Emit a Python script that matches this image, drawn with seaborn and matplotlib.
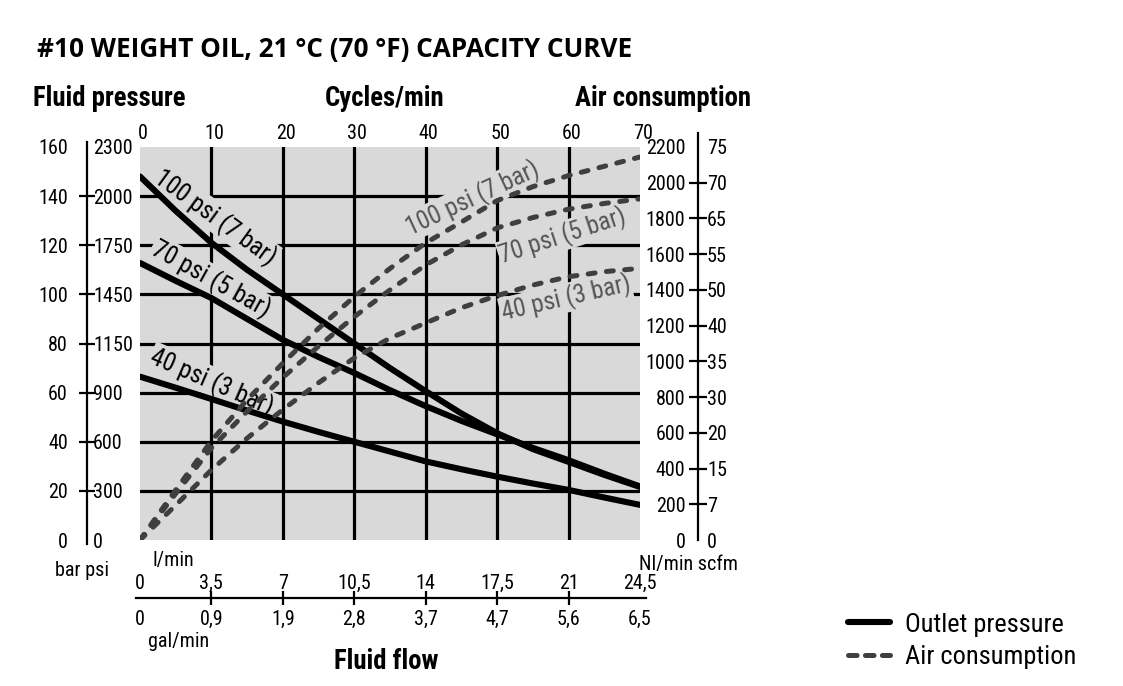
import matplotlib
matplotlib.use("Agg")
import matplotlib.pyplot as plt
import matplotlib.transforms as mtransforms
import seaborn as sns
import pandas as pd
from matplotlib import font_manager
from matplotlib.lines import Line2D

# ---------------- data ----------------
cycles = [0, 5, 10, 15, 20, 25, 30, 35, 40, 45, 50, 55, 60, 65, 70]

# outlet (fluid) pressure, bar
outlet_100psi = [148, 134, 121, 110, 100, 90, 80, 70, 60.6, 51.5, 43.5, 37, 31.8, 26.5, 21.6]
outlet_70psi = [112.8, 105.5, 98.5, 90, 81.5, 74.5, 68, 61, 54.5, 48.5, 43, 37.5, 32.5, 27, 21.8]
outlet_40psi = [66.5, 62, 57.4, 52.7, 48.2, 44, 40, 36, 32, 28.8, 25.8, 23, 20.4, 17.3, 14.3]

# air consumption, Nl/min
air_100psi = [0, 280, 555, 785, 990, 1185, 1362, 1520, 1663, 1780, 1900, 1978, 2040, 2092, 2144]
air_70psi = [0, 260, 515, 720, 910, 1085, 1250, 1400, 1540, 1652, 1747, 1805, 1852, 1884, 1910]
air_40psi = [0, 195, 392, 570, 730, 880, 1019, 1130, 1215, 1300, 1368, 1427, 1474, 1502, 1521]

series_labels = ["100 psi (7 bar)", "70 psi (5 bar)", "40 psi (3 bar)"]

cycle_ticks = [0, 10, 20, 30, 40, 50, 60, 70]
bar_ticks = [0, 20, 40, 60, 80, 100, 120, 140, 160]
psi_labels = ["0", "300", "600", "900", "1150", "1450", "1750", "2000", "2300"]
nl_ticks = [0, 200, 400, 600, 800, 1000, 1200, 1400, 1600, 1800, 2000, 2200]
scfm_labels = ["0", "7", "15", "20", "30", "35", "40", "50", "55", "65", "70", "75"]
lpm_ticks = [0, 3.5, 7, 10.5, 14, 17.5, 21, 24.5]
lpm_labels = ["0", "3,5", "7", "10,5", "14", "17,5", "21", "24,5"]
gpm_labels = ["0", "0,9", "1,9", "2,8", "3,7", "4,7", "5,6", "6,5"]

title_text = "#10 WEIGHT OIL, 21 \u00b0C (70 \u00b0F) CAPACITY CURVE"

# ---------------- style ----------------
sns.set_theme(style="white")
names = {f.name for f in font_manager.fontManager.ttflist}
cond = next((n for n in ["Liberation Sans Narrow", "Roboto Condensed", "DejaVu Sans Condensed",
                         "Liberation Sans", "Roboto"] if n in names), "DejaVu Sans")
plt.rcParams["font.family"] = [cond, "DejaVu Sans"]
plt.rcParams["lines.scale_dashes"] = False
plt.rcParams["text.color"] = "black"
plt.rcParams["xtick.color"] = "black"
plt.rcParams["ytick.color"] = "black"

W, H = 1123, 686
def fx(px):
    return px / W
def fy(py):
    return 1 - py / H

BG = "#d9d9d9"
DASH_C = "#3f3f3f"
LAB_C = "#555555"
TICK_FS = 14.5
DASH = (0, (5.0, 8.2))

fig = plt.figure(figsize=(W / 100, H / 100), dpi=100)

# ---------------- main plotting area ----------------
ax = fig.add_axes([fx(140), fy(540), 500 / W, 393 / H])
ax.set_facecolor(BG)
ax.set_xlim(0, 70)
ax.set_ylim(0, 160)
for s in ax.spines.values():
    s.set_visible(False)
ax.set_xticks(cycle_ticks)
ax.set_yticks(bar_ticks)
ax.set_axisbelow(True)
ax.grid(True, color="black", linewidth=2.3)
ax.xaxis.tick_top()
ax.tick_params(axis="x", length=0, pad=3, labelsize=TICK_FS, labeltop=True, labelbottom=False)
ax.tick_params(axis="y", length=0, labelleft=False, labelright=False)
ax.set_xlabel("")
ax.set_ylabel("")

outlet = [outlet_100psi, outlet_70psi, outlet_40psi]
for vals in outlet:
    sns.lineplot(x=cycles, y=vals, ax=ax, color="black", linewidth=4.4,
                 estimator=None, sort=False, legend=False)
    ln = ax.lines[-1]
    ln.set_solid_capstyle("round")
    ln.set_zorder(3)

# twin axis for air consumption
ax2 = ax.twinx()
ax2.set_ylim(0, 2200)
for s in ax2.spines.values():
    s.set_visible(False)
ax2.set_yticks([])
ax2.set_ylabel("")
air = [air_100psi, air_70psi, air_40psi]
for vals in air:
    sns.lineplot(x=cycles, y=vals, ax=ax2, color=DASH_C, linewidth=3.6,
                 estimator=None, sort=False, legend=False)
    ln = ax2.lines[-1]
    ln.set_linestyle(DASH)
    ln.set_dash_capstyle("round")
    ln.set_zorder(3)
ax2.set_xlim(0, 70)
# no grid lines on the outer edges of the plotting area
for t in [ax.xaxis.get_major_ticks()[0], ax.xaxis.get_major_ticks()[-1],
          ax.yaxis.get_major_ticks()[0], ax.yaxis.get_major_ticks()[-1]]:
    t.gridline.set_visible(False)
# cycle labels sit slightly right of their grid lines in the reference
shift = mtransforms.ScaledTranslation(3 / 100, 0, fig.dpi_scale_trans)
for lbl in ax.get_xticklabels(which="major"):
    lbl.set_transform(lbl.get_transform() + shift)

# curve labels (gray boxes hide the grid lines behind them)
box = dict(boxstyle="square,pad=0.05", facecolor=BG, edgecolor="none")
solid_pos = [(10.5, 131.5, -36), (9.9, 106.3, -29), (10.1, 64.5, -23.5)]
for lab, (x, y, r) in zip(series_labels, solid_pos):
    ax.text(x, y, lab, fontsize=18, rotation=r, rotation_mode="anchor",
            ha="center", va="center", color="black", bbox=box, zorder=1)
dash_pos = [(46.6, 1915, 25), (59.2, 1702, 18), (59.6, 1355, 13)]
for lab, (x, y, r) in zip(series_labels, dash_pos):
    ax2.text(x, y, lab, fontsize=18, rotation=r, rotation_mode="anchor",
             ha="center", va="center", color=LAB_C, bbox=box, zorder=1)

# ---------------- left scale (bar / psi) ----------------
pxb = 160 / 393
axL = fig.add_axes([fx(87), fy(544), 0.0001, 402 / H])
axL.set_ylim(-4 * pxb, 160 + 5 * pxb)
axL.patch.set_visible(False)
axL.set_xticks([])
axL.set_yticks(bar_ticks)
axL.set_yticklabels([str(v) for v in bar_ticks])
axL2 = axL.twinx()
axL2.set_ylim(axL.get_ylim())
axL2.patch.set_visible(False)
for s in axL2.spines.values():
    s.set_visible(False)
axL2.set_yticks(bar_ticks)
axL2.set_yticklabels(psi_labels)
axL2.tick_params(axis="y", length=0, pad=4.3, labelsize=TICK_FS)
for k, s in axL.spines.items():
    s.set_visible(k == "left")
axL.spines["left"].set_linewidth(1.6)
axL.spines["left"].set_color("black")
axL.tick_params(axis="y", direction="inout", length=11, width=1.6, pad=8.3,
                labelsize=TICK_FS, left=True, right=False)
for t in [axL.yaxis.get_major_ticks()[0], axL.yaxis.get_major_ticks()[-1]]:
    t.tick1line.set_visible(False)

# ---------------- right scale (Nl/min / scfm) ----------------
pxn = 2200 / 393
axR = fig.add_axes([fx(697.5), fy(540), 0.0001, 407 / H])
axR.set_ylim(0, 2200 + 14 * pxn)
axR.patch.set_visible(False)
axR.set_xticks([])
axR.set_yticks(nl_ticks)
axR.set_yticklabels([str(v) for v in nl_ticks])
axR2 = axR.twinx()
axR2.set_ylim(axR.get_ylim())
axR2.patch.set_visible(False)
for s in axR2.spines.values():
    s.set_visible(False)
axR2.set_yticks(nl_ticks)
axR2.set_yticklabels(scfm_labels)
axR2.tick_params(axis="y", length=0, pad=6.8, labelsize=TICK_FS)
for k, s in axR.spines.items():
    s.set_visible(k == "left")
axR.spines["left"].set_linewidth(1.6)
axR.spines["left"].set_color("black")
axR.tick_params(axis="y", direction="inout", length=13, width=1.6, pad=2.2,
                labelsize=TICK_FS, left=True, right=False)
for t in [axR.yaxis.get_major_ticks()[0], axR.yaxis.get_major_ticks()[-1]]:
    t.tick1line.set_visible(False)

# ---------------- bottom scale (l/min / gal/min) ----------------
pxl = 24.5 / 500
axB = fig.add_axes([fx(136), fy(598), 510 / W, 0.0001])
axB.set_xlim(-4 * pxl, 24.5 + 6 * pxl)
axB.patch.set_visible(False)
axB.set_yticks([])
axB.set_xticks(lpm_ticks)
axB.set_xticklabels(gpm_labels)
axB2 = axB.twiny()
axB2.set_xlim(axB.get_xlim())
axB2.patch.set_visible(False)
for s in axB2.spines.values():
    s.set_visible(False)
axB2.set_xticks(lpm_ticks)
axB2.set_xticklabels(lpm_labels)
axB2.tick_params(axis="x", length=0, pad=3.6, labelsize=TICK_FS)
for k, s in axB.spines.items():
    s.set_visible(k == "bottom")
axB.spines["bottom"].set_linewidth(1.6)
axB.spines["bottom"].set_color("black")
axB.tick_params(axis="x", direction="inout", length=10, width=1.6, pad=3.6,
                labelsize=TICK_FS, bottom=True, top=False)
for t in [axB.xaxis.get_major_ticks()[0], axB.xaxis.get_major_ticks()[-1]]:
    t.tick1line.set_visible(False)

# ---------------- texts ----------------
HDR = 19.3
fig.text(fx(33), fy(106), "Fluid pressure", fontsize=HDR, fontweight="bold", ha="left", va="baseline")
fig.text(fx(385), fy(106), "Cycles/min", fontsize=HDR, fontweight="bold", ha="center", va="baseline")
fig.text(fx(575), fy(106), "Air consumption", fontsize=HDR, fontweight="bold", ha="left", va="baseline")
fig.text(fx(386), fy(669), "Fluid flow", fontsize=HDR, fontweight="bold", ha="center", va="baseline")
fig.text(fx(55), fy(576), "bar psi", fontsize=TICK_FS, ha="left", va="baseline")
fig.text(fx(639), fy(570), "Nl/min scfm", fontsize=TICK_FS, ha="left", va="baseline")
fig.text(fx(152), fy(566), "l/min", fontsize=TICK_FS, ha="left", va="baseline")
fig.text(fx(148), fy(647), "gal/min", fontsize=TICK_FS, ha="left", va="baseline")

ttl = fig.text(fx(37), fy(57), title_text, fontsize=17, fontweight="bold",
               family=["Open Sans", "DejaVu Sans"], ha="left", va="baseline")
fig.canvas.draw()
w = ttl.get_window_extent(fig.canvas.get_renderer()).width
ttl.set_fontsize(17 * 595 / w)

# ---------------- legend ----------------
handles = [
    Line2D([], [], color="black", linewidth=4.4, solid_capstyle="round"),
    Line2D([], [], color=DASH_C, linewidth=3.6, linestyle=(0, (6.2, 6.0)), dash_capstyle="round"),
]
fig.legend(handles, ["Outlet pressure", "Air consumption"], loc="center left",
           bbox_to_anchor=(fx(848), fy(641)), frameon=False, fontsize=19,
           handlelength=1.6, handletextpad=0.55, labelspacing=0.33,
           borderpad=0, borderaxespad=0)

fig.savefig("out.png", dpi=100)
